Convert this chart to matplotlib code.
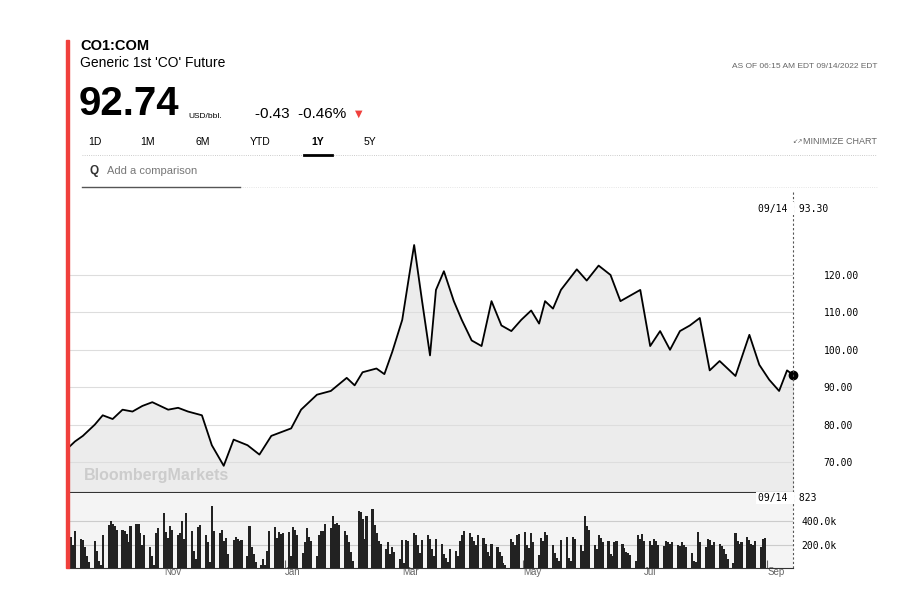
import matplotlib.pyplot as plt
import matplotlib.dates as mdates
import numpy as np
import pandas as pd

plt.rcParams['font.family'] = ['Liberation Sans', 'DejaVu Sans']

# price, USD/bbl
price_dates = ["2021-09-14", "2021-09-17", "2021-09-21", "2021-09-27", "2021-10-01", "2021-10-06",
               "2021-10-11", "2021-10-16", "2021-10-21", "2021-10-26",
               "2021-11-03", "2021-11-08", "2021-11-13", "2021-11-20", "2021-11-25", "2021-12-01",
               "2021-12-06", "2021-12-13", "2021-12-19", "2021-12-25", "2022-01-04", "2022-01-09",
               "2022-01-17", "2022-01-24", "2022-02-01", "2022-02-05", "2022-02-09", "2022-02-16",
               "2022-02-20", "2022-02-24",
               "2022-03-01", "2022-03-05", "2022-03-07", "2022-03-11", "2022-03-15", "2022-03-18",
               "2022-03-22", "2022-03-27", "2022-03-31", "2022-04-05", "2022-04-10", "2022-04-15",
               "2022-04-20", "2022-04-25", "2022-04-30", "2022-05-05", "2022-05-09", "2022-05-12",
               "2022-05-16", "2022-05-20",
               "2022-05-28", "2022-06-02", "2022-06-08", "2022-06-14", "2022-06-19", "2022-06-24",
               "2022-06-29", "2022-07-04", "2022-07-09", "2022-07-14", "2022-07-19", "2022-07-24",
               "2022-07-29", "2022-08-03", "2022-08-08", "2022-08-16", "2022-08-23", "2022-08-28",
               "2022-09-02", "2022-09-07", "2022-09-11", "2022-09-14"]
price = [74, 75.5, 77, 80, 82.5, 81.5,
         84, 83.5, 85, 86,
         84, 84.5, 83.5, 82.5, 74.5, 69,
         76, 74.5, 72, 77, 79, 84,
         88, 89, 92.5, 90.5, 94, 95,
         93.5, 99.5,
         108, 121.5, 128, 113, 98.5, 116,
         121, 113, 108, 102.5, 101, 113,
         106.5, 105, 108, 110.5, 107, 113,
         111, 116,
         121.5, 118.5, 122.5, 120, 113, 114.5,
         116, 101, 105, 100, 105, 106.5,
         108.5, 94.5, 97, 93, 104, 96,
         92, 89, 94.5, 93.3]

# daily volume, thousands
volume = [290, 270, 200, 320, 250, 240, 180, 100, 50, 230,
          150, 60, 30, 280, 370, 400, 380, 360, 330, 330,
          320, 290, 220, 360, 380, 380, 300, 200, 280, 180,
          100, 30, 300, 340, 470, 310, 260, 360, 330, 280,
          300, 400, 250, 470, 320, 150, 80, 350, 370, 280,
          220, 50, 530, 320, 300, 330, 230, 260, 120, 240,
          270, 250, 230, 240, 100, 360, 180, 120, 50, 30,
          80, 30, 150, 320, 350, 260, 310, 290, 300, 310,
          100, 350, 330, 280, 130, 220, 340, 270, 230, 100,
          280, 320, 320, 380, 340, 450, 380, 390, 370, 320,
          280, 220, 140, 60, 490, 480, 420, 250, 450, 510,
          370, 300, 230, 210, 160, 220, 120, 180, 140, 80,
          240, 40, 240, 230, 300, 280, 200, 130, 240, 280,
          250, 160, 100, 250, 210, 120, 90, 50, 160, 150,
          100, 230, 280, 320, 300, 270, 230, 200, 280, 260,
          210, 140, 100, 210, 180, 140, 100, 40, 30, 250,
          220, 200, 280, 290, 310, 200, 170, 300, 220, 110,
          260, 230, 310, 280, 200, 130, 90, 60, 240, 270,
          90, 60, 270, 250, 200, 150, 450, 360, 330, 200,
          160, 280, 260, 220, 230, 120, 100, 220, 230, 210,
          170, 140, 130, 110, 60, 280, 250, 290, 230, 230,
          200, 250, 230, 200, 190, 230, 220, 210, 220, 200,
          190, 220, 200, 180, 130, 60, 50, 310, 220, 180,
          250, 240, 200, 220, 210, 190, 160, 120, 80, 40,
          300, 230, 210, 220, 270, 240, 210, 200, 230, 180,
          250, 260]

vol_dates = pd.bdate_range("2021-09-14", periods=len(volume))
pdates = pd.to_datetime(price_dates)
start, end = pd.Timestamp("2021-09-14"), pd.Timestamp("2022-09-14")

fig = plt.figure(figsize=(9, 6.08), dpi=100)
W, H = 900, 608

def box(x0, y0, x1, y1):
    return [x0 / W, 1 - y1 / H, (x1 - x0) / W, (y1 - y0) / H]

def hline(x0, x1, y, **kw):
    fig.add_artist(plt.Line2D([x0 / W, x1 / W], [1 - y / H] * 2, **kw))

# header
fig.add_artist(plt.Rectangle((66 / W, 1 - 568 / H), 3 / W, (568 - 40) / H, color="#f0403c",
                             transform=fig.transFigure))
fig.text(80 / W, 1 - 46 / H, "CO1:COM", fontsize=10.5, weight="bold", va="center")
fig.text(80 / W, 1 - 63 / H, "Generic 1st 'CO' Future", fontsize=10, va="center")
fig.text(79 / W, 1 - 104 / H, "92.74", fontsize=29, weight="bold", va="center")
fig.text(188 / W, 1 - 116 / H, "USD/bbl.", fontsize=6, va="center")
fig.text(255 / W, 1 - 114 / H, "-0.43  -0.46%", fontsize=11, va="center")
fig.text(355 / W, 1 - 114 / H, "▼", fontsize=7, color="#f0403c", va="center", family="DejaVu Sans")
fig.text(877 / W, 1 - 67 / H, "AS OF 06:15 AM EDT 09/14/2022 EDT", fontsize=6, color="#666666",
         ha="right", va="center")
for lab, x in zip(["1D", "1M", "6M", "YTD", "1Y", "5Y"], [95, 148, 203, 260, 318, 370]):
    fig.text(x / W, 1 - 142 / H, lab, fontsize=7.5, ha="center", va="center",
             weight="bold" if lab == "1Y" else "normal")
hline(82, 877, 155, color="#bbbbbb", lw=0.6, ls=":", zorder=1)
hline(304, 332, 155, color="black", lw=2, zorder=3)
fig.text(877 / W, 1 - 142 / H, "MINIMIZE CHART", fontsize=6.5, color="#666666", ha="right", va="center")
fig.text(797 / W, 1 - 142 / H, "↙↗", fontsize=4.5, color="#666666", ha="center", va="center",
         family="DejaVu Sans")
fig.text(90 / W, 1 - 171 / H, "Q", fontsize=8.5, weight="bold", color="#333333", va="center")
fig.text(107 / W, 1 - 171 / H, "Add a comparison", fontsize=8, color="#777777", va="center")
hline(240, 877, 187, color="#dddddd", lw=0.6, ls=":")
hline(82, 240, 187, color="#555555", lw=1)

# price panel
ax = fig.add_axes(box(69, 190, 793, 492))
ax.plot(pdates, price, color="black", lw=1.3)
ax.fill_between(pdates, price, 0, color="#ececec")
ax.plot(pdates[-1], price[-1], "o", color="black", ms=6, clip_on=False)
ax.set_xlim(start, end)
ax.set_ylim(62, 142.7)
ax.set_yticks([70, 80, 90, 100, 110, 120])
ax.grid(axis="y", color="#dddddd", lw=0.8)
ax.yaxis.tick_right()
ax.set_yticklabels(["%.2f" % v for v in ax.get_yticks()], fontsize=7, family="DejaVu Sans Mono")
ax.tick_params(axis="y", length=0, pad=22)
ax.set_xticks([])
for s in ax.spines.values():
    s.set_visible(False)
ax.spines["bottom"].set_visible(True)
ax.spines["bottom"].set_color("#333333")
ax.axvline(end, color="#555555", lw=0.8, ls=(0, (2, 2)), clip_on=False)
ax.text(0.02, 0.04, "BloombergMarkets", transform=ax.transAxes, fontsize=11.5, weight="bold",
        color="#cccccc")
ax.text(end, 142.7 - 5, "09/14 ", fontsize=7, ha="right", va="center", family="DejaVu Sans Mono",
        bbox=dict(fc="white", ec="none", pad=1))
ax.text(end, 142.7 - 5, " 93.30", fontsize=7, ha="left", va="center", family="DejaVu Sans Mono")

# volume panel
vx = fig.add_axes(box(69, 493, 793, 568))
vx.bar(vol_dates, volume, width=1.1, color="#222222")
vx.set_facecolor("#f4f4f4")
vx.set_xlim(start, end)
vx.set_ylim(0, 643)
vx.set_yticks([200, 400])
vx.set_yticklabels(["200.0k", "400.0k"], fontsize=7, family="DejaVu Sans Mono")
vx.yaxis.tick_right()
vx.tick_params(axis="y", length=0, pad=6)
vx.grid(axis="y", color="#cccccc", lw=0.8)
vx.set_axisbelow(True)
for s in vx.spines.values():
    s.set_visible(False)
vx.spines["bottom"].set_visible(True)
vx.spines["bottom"].set_color("#333333")
vx.xaxis.set_major_locator(mdates.MonthLocator(bymonth=[11, 1, 3, 5, 7, 9]))
vx.xaxis.set_major_formatter(mdates.DateFormatter("%b"))
vx.tick_params(axis="x", labelsize=7, colors="#666666", length=6, direction="in", pad=-1)
for t in vx.get_xticklabels():
    t.set_horizontalalignment("left")
vx.axvline(end, color="#555555", lw=0.8, ls=(0, (2, 2)), clip_on=False)
vx.text(end, 600, "09/14 ", fontsize=7, ha="right", va="center", family="DejaVu Sans Mono",
        bbox=dict(fc="white", ec="none", pad=1))
vx.text(end, 600, " 823", fontsize=7, ha="left", va="center", family="DejaVu Sans Mono")

fig.savefig("out.png", dpi=100, facecolor="white")
